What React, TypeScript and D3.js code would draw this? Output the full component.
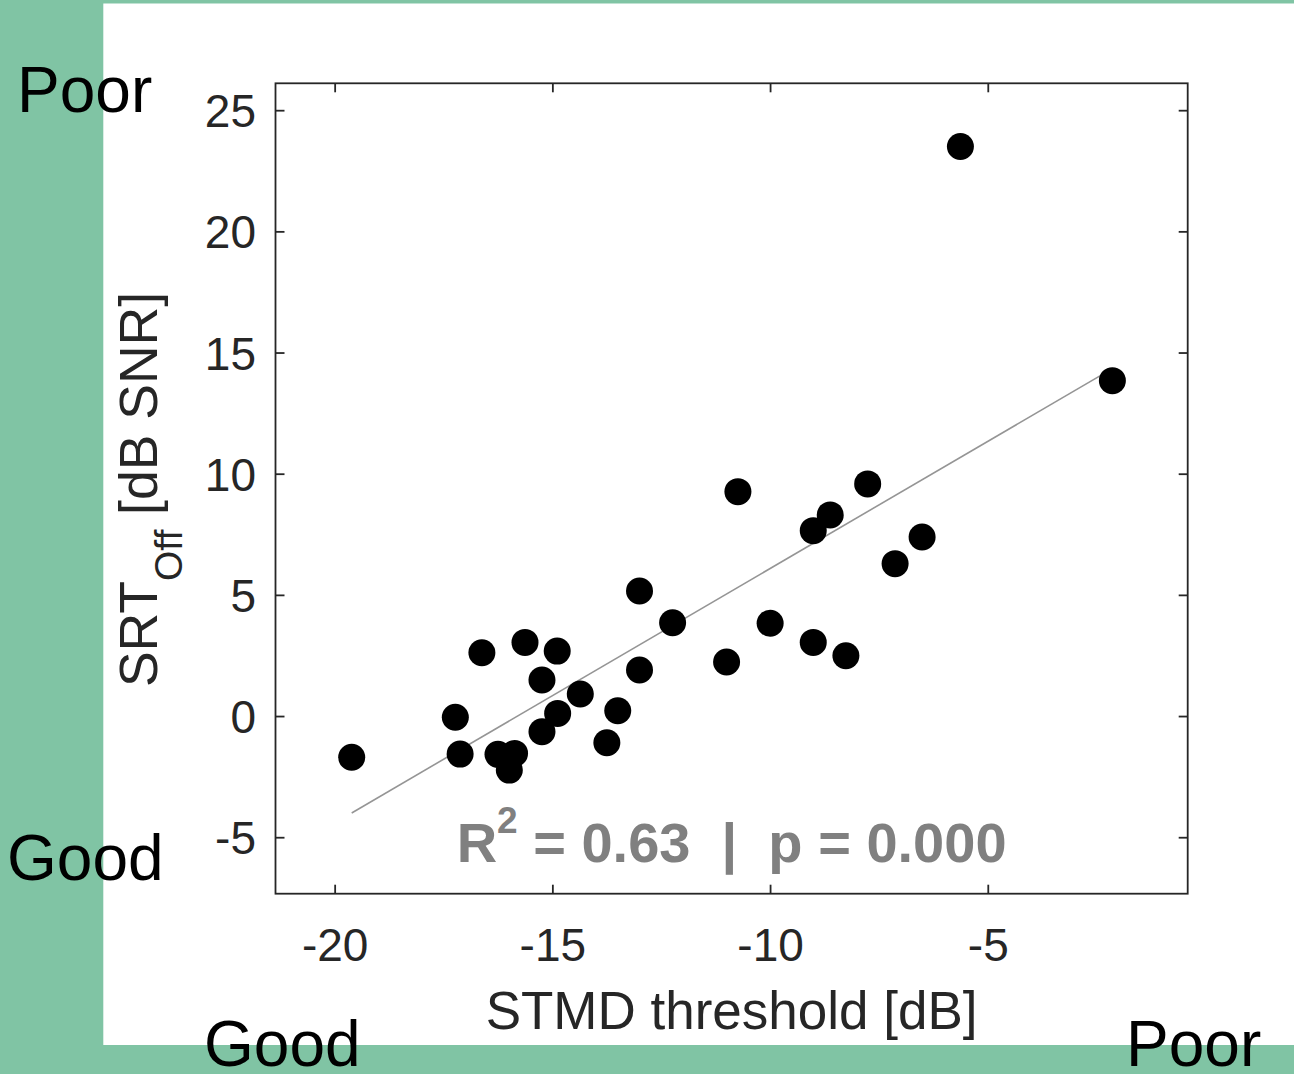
import React from "react";
import * as d3 from "d3";

// ---- data ----
const stmdThreshold: number[] = [
  -19.62, -17.24, -17.13, -16.63, -16.26, -15.88, -16.0, -15.64, -14.9, -15.25,
  -15.25, -14.89, -14.37, -13.51, -13.76, -13.01, -13.01, -12.25, -11.01, -10.75,
  -10.01, -9.02, -9.02, -8.63, -8.27, -7.77, -7.14, -6.52, -5.64, -2.15,
];
const srtOff: number[] = [
  -1.68, -0.03, -1.55, 2.63, -1.56, -1.52, -2.21, 3.06, 2.7, 1.51,
  -0.63, 0.13, 0.93, 0.24, -1.08, 5.18, 1.92, 3.87, 2.25, 9.28,
  3.85, 7.67, 3.06, 8.32, 2.51, 9.6, 6.31, 7.41, 23.52, 13.86,
];
const xTicks: number[] = [-20, -15, -10, -5];
const yTicks: number[] = [-5, 0, 5, 10, 15, 20, 25];
const xDomain: [number, number] = [-21.37, -0.42];
const yDomain: [number, number] = [-7.31, 26.13];
const xLabel = "STMD threshold [dB]";
const yLabelMain = "SRT";
const yLabelSub = "Off";
const yLabelRest = "\u00a0[dB SNR]";
const r2Text = "0.63";
const pText = "0.000";

const W = 1294;
const H = 1074;
const GREEN = "#80c4a4";
const AX = "#262626";
const FONT = "'Liberation Sans', Arial, Helvetica, sans-serif";

export default function App() {
  const left = 275.5,
    right = 1187.7,
    top = 83.3,
    bottom = 893.7;
  const x = d3.scaleLinear().domain(xDomain).range([left, right]);
  const y = d3.scaleLinear().domain(yDomain).range([bottom, top]);

  // least-squares fit
  const pts = stmdThreshold.map((v, i) => [v, srtOff[i]] as [number, number]);
  const mx = d3.mean(stmdThreshold) as number;
  const my = d3.mean(srtOff) as number;
  let sxy = 0,
    sxx = 0;
  pts.forEach(([a, b]) => {
    sxy += (a - mx) * (b - my);
    sxx += (a - mx) * (a - mx);
  });
  const slope = sxy / sxx;
  const icpt = my - slope * mx;
  const [x0, x1] = d3.extent(stmdThreshold) as [number, number];
  const line = d3.line<[number, number]>()
    .x((d) => x(d[0]))
    .y((d) => y(d[1]));
  const fitPath = line([
    [x0, icpt + slope * x0],
    [x1, icpt + slope * x1],
  ]) as string;

  const tickLen = 9;
  const cx = (left + right) / 2;
  const cy = (top + bottom) / 2;
  const nb = "\u00a0";

  return (
    <svg
      width={W}
      height={H}
      style={{ position: "absolute", left: 0, top: 0, display: "block" }}
      fontFamily={FONT}
    >
      <rect x={0} y={0} width={W} height={H} fill={GREEN} />
      <rect x={103.3} y={3.5} width={W - 103.3} height={1045 - 3.5} fill="#ffffff" />

      {/* regression line */}
      <path d={fitPath} stroke="#959595" strokeWidth={1.6} fill="none" />

      {/* points */}
      {pts.map(([a, b], i) => (
        <circle key={i} cx={x(a)} cy={y(b)} r={13.5} fill="#000" />
      ))}

      {/* frame */}
      <rect
        x={left}
        y={top}
        width={right - left}
        height={bottom - top}
        fill="none"
        stroke={AX}
        strokeWidth={1.8}
      />
      {xTicks.map((t) => (
        <g key={"xt" + t}>
          <line x1={x(t)} x2={x(t)} y1={bottom} y2={bottom - tickLen} stroke={AX} strokeWidth={1.8} />
          <line x1={x(t)} x2={x(t)} y1={top} y2={top + tickLen} stroke={AX} strokeWidth={1.8} />
          <text x={x(t)} y={961} textAnchor="middle" fontSize={46} fill={AX}>
            {t}
          </text>
        </g>
      ))}
      {yTicks.map((t) => (
        <g key={"yt" + t}>
          <line x1={left} x2={left + tickLen} y1={y(t)} y2={y(t)} stroke={AX} strokeWidth={1.8} />
          <line x1={right} x2={right - tickLen} y1={y(t)} y2={y(t)} stroke={AX} strokeWidth={1.8} />
          <text x={256} y={y(t)} dy="0.36em" textAnchor="end" fontSize={46} fill={AX}>
            {t}
          </text>
        </g>
      ))}

      {/* axis labels */}
      <text x={cx} y={1029} textAnchor="middle" fontSize={53} fill={AX}>
        {xLabel}
      </text>
      <text transform={`translate(157,${cy + 1}) rotate(-90)`} textAnchor="middle" fontSize={53.5} fill={AX}>
        {yLabelMain}
        <tspan fontSize={39} dy={25}>
          {yLabelSub}
        </tspan>
        <tspan dy={-25}>{yLabelRest}</tspan>
      </text>

      {/* stats annotation */}
      <text x={cx} y={862} textAnchor="middle" fontSize={56} fontWeight="bold" fill="#808080">
        R<tspan fontSize={37} dy={-29}>2</tspan>
        <tspan dy={29}>{`${nb}=${nb}${r2Text}${nb}${nb}|${nb}${nb}p${nb}=${nb}${pText}`}</tspan>
      </text>

      {/* Good / Poor annotations */}
      <text x={17} y={111.5} fontSize={64} fill="#000">Poor</text>
      <text x={7} y={880} fontSize={64} fill="#000">Good</text>
      <text x={204} y={1066} fontSize={64} fill="#000">Good</text>
      <text x={1126} y={1066} fontSize={64} fill="#000">Poor</text>
    </svg>
  );
}
